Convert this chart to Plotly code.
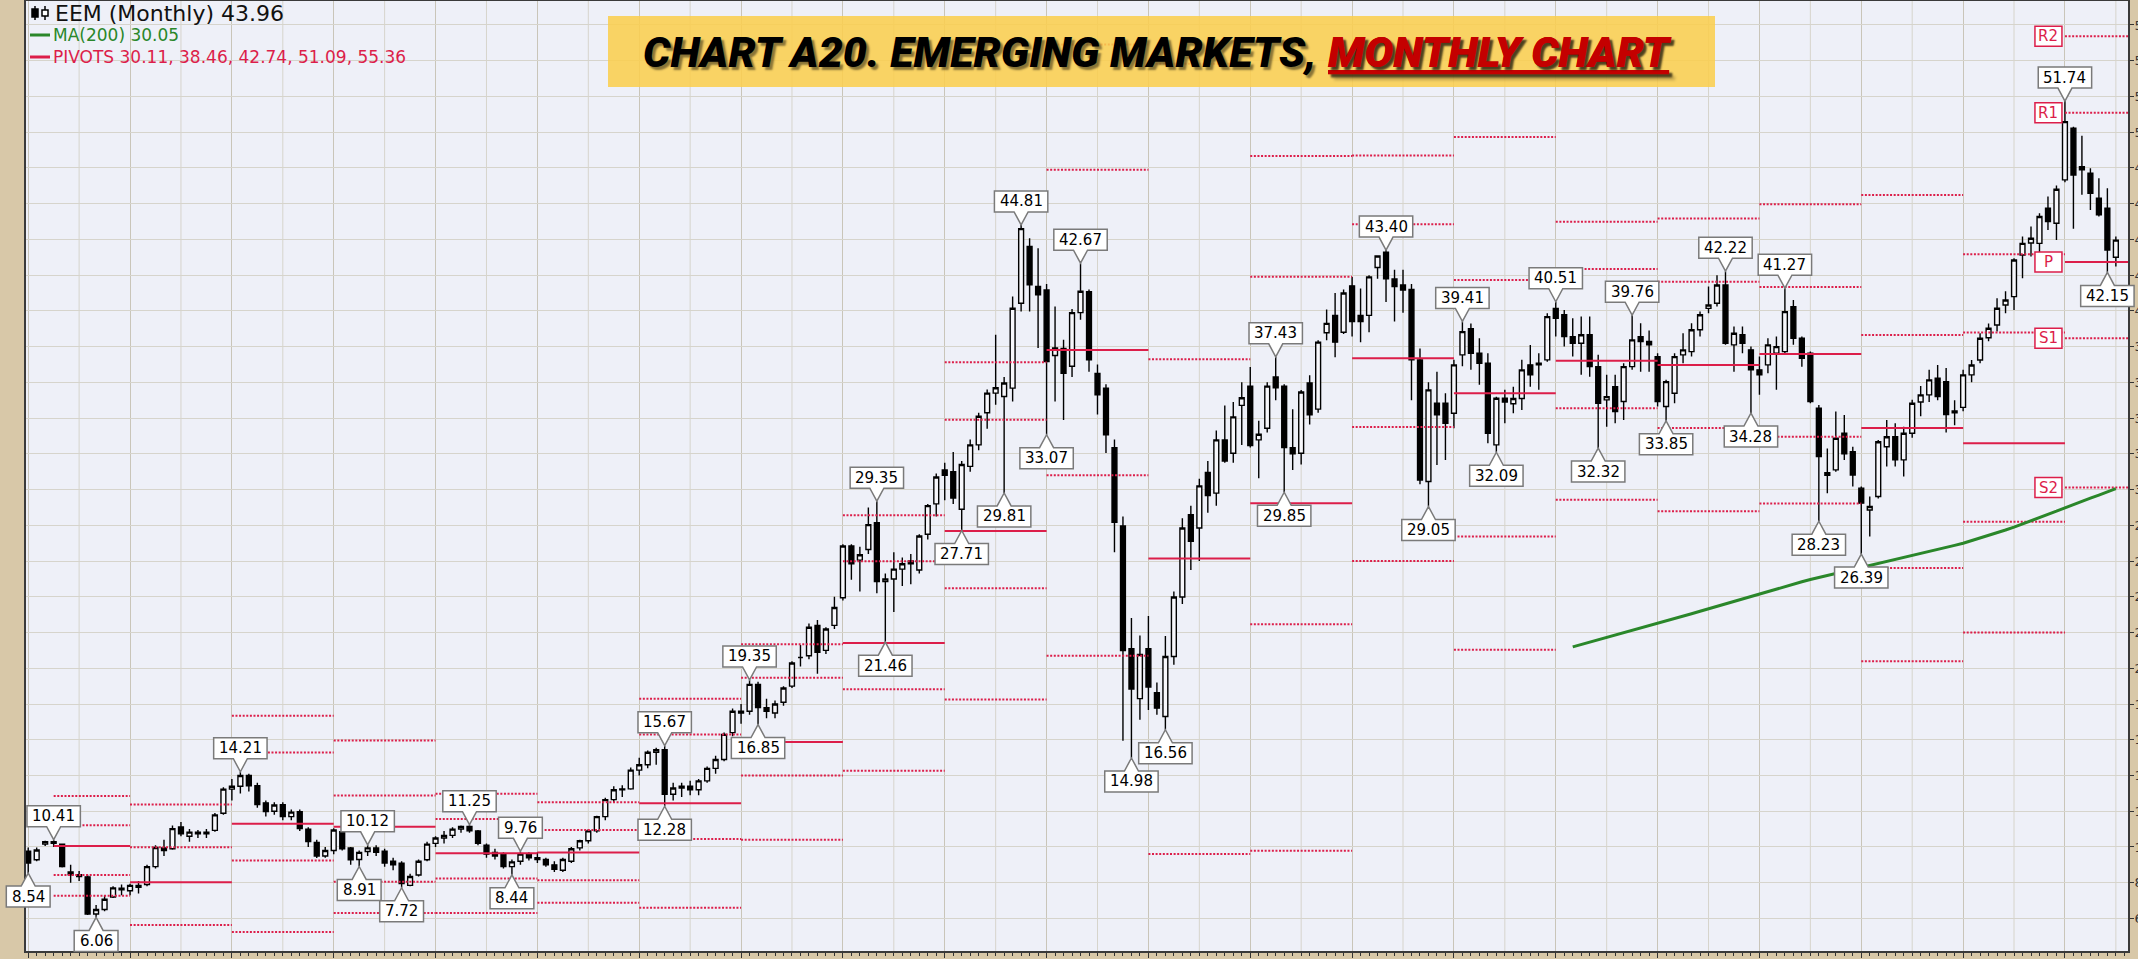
import plotly.graph_objects as go

# ---------------- data: EEM monthly candles, Jan 1998 .. Jul 2018 ----------------
FIRST_YEAR = 1998
OPEN = [
    9.77, 9.29, 10.16, 10.30, 10.15, 8.60, 8.45, 8.33, 6.25, 6.50, 7.20, 7.70,          # 1998
    7.55, 7.85, 7.90, 8.90, 9.95, 9.90, 11.12, 10.60, 10.83, 10.74, 10.93, 11.89,       # 1999
    13.24, 13.40, 14.01, 13.43, 12.47, 12.00, 12.37, 11.70, 11.97, 11.00, 10.26, 9.50,  # 2000
    9.80, 10.85, 9.95, 9.30, 9.75, 9.95, 9.77, 9.20, 9.10, 7.85, 8.43, 9.29,            # 2001
    10.20, 10.50, 10.65, 11.00, 11.15, 10.90, 10.10, 9.70, 9.60, 8.90, 9.20, 9.60,      # 2002
    9.40, 9.30, 9.00, 8.70, 9.20, 9.95, 10.35, 10.90, 11.70, 12.65, 13.20, 13.25,       # 2003
    14.30, 14.60, 15.30, 15.45, 12.95, 13.30, 13.40, 13.20, 13.70, 14.40, 14.90, 16.40, # 2004
    17.60, 17.60, 19.10, 17.80, 17.50, 18.10, 19.00, 20.60, 20.70, 22.40, 21.00, 22.40, # 2005
    23.95, 26.84, 26.05, 26.65, 28.14, 24.85, 25.00, 25.55, 26.00, 25.50, 27.50, 29.20, # 2006
    31.10, 31.00, 28.90, 31.30, 32.50, 34.30, 35.40, 35.21, 35.68, 40.43, 43.60, 41.36, # 2007
    41.17, 37.50, 37.90, 36.90, 39.90, 41.08, 36.50, 35.68, 32.35, 27.96, 21.09, 18.30, # 2008
    21.09, 18.63, 17.30, 20.66, 23.99, 28.60, 27.85, 30.96, 29.80, 32.78, 32.03, 34.71, # 2009
    35.79, 32.78, 33.43, 36.30, 35.79, 32.35, 32.03, 35.96, 34.50, 38.78, 39.75, 38.80, # 2010
    41.40, 39.75, 39.75, 42.43, 43.29, 41.79, 41.45, 41.20, 37.26, 30.45, 34.83, 34.83, # 2011
    34.27, 37.54, 39.00, 37.63, 37.07, 32.50, 35.11, 34.80, 35.10, 36.98, 36.98, 37.26, # 2012
    40.14, 39.78, 38.56, 38.19, 38.66, 36.88, 35.02, 35.76, 34.93, 36.88, 38.56, 38.29, # 2013
    37.44, 34.65, 35.39, 37.54, 37.72, 38.94, 40.14, 40.43, 41.45, 38.10, 38.66, 37.82, # 2014
    36.70, 36.98, 37.63, 37.72, 40.24, 38.47, 37.63, 34.55, 30.95, 31.10, 33.15, 32.12, # 2015
    30.08, 28.86, 29.61, 32.40, 32.96, 31.66, 33.15, 34.90, 35.30, 36.23, 36.04, 34.30, # 2016
    34.60, 36.42, 37.25, 38.50, 39.21, 40.33, 40.80, 43.13, 43.80, 43.78, 45.74, 44.90, # 2017
    47.33, 50.22, 48.07, 47.70, 46.30, 45.74, 43.00,                                     # 2018
]
HIGH = [
    9.97, 9.97, 10.35, 10.41, 10.20, 9.00, 8.65, 8.45, 6.75, 7.30, 7.80, 7.90,
    7.95, 8.10, 9.00, 10.10, 10.40, 11.20, 11.40, 11.00, 10.95, 11.00, 11.90, 13.35,
    13.80, 14.21, 14.10, 13.60, 12.60, 12.50, 12.50, 12.10, 12.10, 11.10, 10.40, 10.00,
    11.05, 11.00, 10.00, 9.80, 10.12, 10.10, 9.90, 9.40, 9.20, 8.50, 9.30, 10.30,
    10.60, 10.90, 11.10, 11.20, 11.25, 10.95, 10.20, 9.90, 9.70, 9.30, 9.76, 9.70,
    9.70, 9.40, 9.20, 9.40, 10.00, 10.40, 11.00, 11.75, 12.75, 13.40, 13.45, 14.45,
    15.00, 15.40, 15.55, 15.67, 13.60, 13.60, 13.70, 13.80, 14.50, 15.10, 16.40, 17.75,
    18.00, 19.35, 19.25, 18.30, 18.20, 19.00, 20.40, 21.30, 22.50, 22.70, 22.30, 24.00,
    26.94, 26.94, 26.80, 29.00, 29.35, 25.30, 26.50, 26.20, 26.40, 27.50, 29.20, 30.90,
    31.50, 32.10, 31.60, 32.80, 34.30, 35.60, 38.66, 36.30, 40.80, 44.81, 44.06, 43.50,
    41.50, 40.24, 38.38, 40.10, 42.67, 41.20, 37.00, 35.90, 32.80, 28.49, 22.81, 21.84,
    22.92, 19.20, 21.80, 24.30, 28.40, 29.10, 30.60, 31.60, 33.30, 34.70, 34.90, 36.00,
    36.86, 33.85, 36.00, 37.43, 35.90, 34.50, 35.57, 36.40, 38.36, 40.08, 41.00, 41.20,
    41.90, 41.25, 42.00, 43.10, 43.40, 42.30, 42.30, 41.50, 37.90, 36.00, 36.60, 35.39,
    37.26, 39.41, 39.30, 38.47, 37.63, 35.20, 35.58, 35.76, 37.26, 38.09, 37.63, 39.87,
    40.51, 40.05, 39.59, 39.68, 39.68, 37.54, 36.42, 36.42, 37.07, 39.76, 39.31, 38.90,
    37.63, 36.14, 37.63, 38.75, 39.31, 39.96, 41.36, 42.00, 42.22, 39.12, 39.12, 38.00,
    37.44, 38.47, 38.56, 41.27, 40.61, 38.56, 37.72, 34.74, 32.30, 34.37, 34.18, 32.40,
    30.17, 29.61, 32.78, 33.90, 33.71, 33.52, 35.02, 35.80, 36.70, 36.97, 36.80, 35.00,
    36.70, 37.25, 38.75, 39.30, 40.70, 41.10, 42.94, 44.16, 44.72, 45.46, 46.40, 47.015,
    51.74, 50.30, 49.80, 47.98, 47.42, 46.86, 44.16,
]
LOW = [
    8.54, 9.20, 10.05, 10.00, 8.85, 8.00, 8.10, 6.20, 6.06, 6.40, 7.15, 7.30,
    7.30, 7.40, 7.80, 8.80, 9.50, 9.85, 10.60, 10.30, 10.50, 10.50, 10.85, 11.80,
    12.60, 13.00, 13.10, 12.20, 11.70, 11.80, 11.50, 11.50, 10.90, 10.00, 9.39, 9.40,
    9.60, 9.80, 9.00, 8.91, 9.50, 9.50, 8.90, 8.70, 7.72, 7.80, 8.35, 9.20,
    10.00, 10.20, 10.50, 10.80, 10.80, 10.10, 9.40, 9.30, 8.80, 8.44, 9.00, 9.25,
    9.10, 8.90, 8.60, 8.60, 9.10, 9.80, 10.20, 10.80, 11.50, 12.50, 12.80, 13.20,
    14.00, 14.40, 14.60, 12.28, 12.60, 12.80, 12.90, 12.90, 13.60, 14.10, 14.80, 16.20,
    16.90, 17.40, 16.85, 17.20, 17.20, 17.90, 18.90, 20.10, 20.50, 19.70, 20.80, 22.20,
    23.80, 24.95, 24.30, 26.40, 24.20, 21.46, 23.15, 24.60, 24.70, 25.30, 27.20, 28.50,
    29.40, 29.20, 27.71, 31.00, 32.20, 33.40, 34.75, 29.81, 34.93, 39.97, 39.97, 37.92,
    33.07, 34.93, 33.90, 36.30, 39.50, 36.60, 34.20, 32.05, 26.50, 15.94, 14.98, 17.12,
    17.66, 17.40, 16.56, 20.20, 23.60, 25.50, 26.00, 28.70, 29.10, 31.50, 31.50, 32.50,
    32.35, 30.64, 33.20, 35.00, 29.85, 31.10, 31.40, 33.64, 34.30, 38.36, 37.40, 38.70,
    38.57, 38.25, 38.80, 41.80, 40.50, 39.40, 39.90, 35.00, 30.30, 29.05, 31.38, 31.66,
    33.43, 36.90, 36.70, 35.86, 32.59, 32.09, 33.71, 34.27, 34.46, 35.76, 35.58, 37.16,
    38.56, 38.00, 37.44, 36.42, 36.32, 32.32, 33.52, 33.71, 33.90, 36.70, 36.60, 36.60,
    34.65, 33.85, 34.83, 37.07, 37.44, 38.56, 39.87, 40.24, 38.10, 36.60, 37.63, 34.28,
    35.30, 36.51, 35.58, 37.60, 38.10, 36.88, 34.83, 28.23, 29.80, 31.00, 31.66, 30.17,
    26.39, 27.37, 29.50, 31.29, 31.29, 30.73, 32.90, 34.10, 34.90, 35.00, 33.20, 33.60,
    34.39, 36.00, 37.07, 38.30, 38.84, 39.87, 40.05, 41.82, 43.04, 43.22, 44.53, 43.97,
    47.20, 44.60, 46.50, 45.65, 45.28, 42.15, 42.48,
]
CLOSE = [
    9.10, 9.83, 10.30, 10.20, 8.91, 8.45, 8.35, 6.25, 6.50, 7.08, 7.71, 7.60,
    7.85, 7.75, 8.90, 9.97, 9.80, 11.03, 10.74, 10.83, 10.74, 10.83, 11.80, 13.24,
    13.40, 14.00, 13.43, 12.37, 11.99, 12.35, 11.70, 11.95, 11.03, 10.30, 9.49, 9.80,
    10.95, 9.90, 9.29, 9.70, 9.95, 9.70, 9.10, 9.00, 7.95, 8.35, 9.20, 10.16,
    10.50, 10.65, 11.00, 11.15, 10.91, 10.20, 9.60, 9.50, 8.90, 9.17, 9.60, 9.40,
    9.30, 9.00, 8.75, 9.30, 9.90, 10.35, 10.90, 11.70, 12.65, 13.20, 13.25, 14.30,
    14.60, 15.30, 15.45, 12.95, 13.30, 13.40, 13.20, 13.70, 14.40, 14.90, 16.30, 17.60,
    17.50, 19.10, 17.80, 17.60, 18.00, 18.90, 20.30, 20.60, 22.30, 20.90, 22.20, 23.40,
    26.84, 25.85, 26.35, 28.04, 24.85, 25.00, 25.55, 25.85, 25.85, 27.40, 29.10, 30.70,
    30.80, 29.53, 31.40, 32.50, 34.10, 35.40, 35.70, 35.96, 40.15, 44.60, 41.46, 40.90,
    37.17, 37.92, 36.50, 39.90, 41.10, 37.26, 35.30, 33.07, 28.17, 20.99, 18.84, 20.77,
    18.95, 17.77, 20.66, 23.99, 27.85, 27.10, 30.21, 29.67, 32.78, 31.60, 34.07, 35.14,
    32.46, 33.10, 35.79, 35.70, 32.35, 32.00, 35.46, 34.18, 38.25, 39.30, 38.25, 41.00,
    39.40, 39.40, 41.90, 43.07, 41.79, 41.36, 41.17, 37.26, 30.54, 35.58, 34.18, 33.71,
    36.98, 38.84, 37.63, 37.07, 33.15, 35.11, 34.90, 35.10, 36.70, 36.42, 37.07, 39.68,
    39.59, 38.56, 38.19, 38.66, 36.88, 34.83, 35.20, 34.37, 36.88, 38.38, 38.29, 38.10,
    34.93, 36.04, 37.44, 37.82, 38.94, 39.78, 40.33, 41.45, 38.19, 38.75, 38.19, 36.70,
    36.42, 38.10, 38.00, 39.96, 38.47, 37.35, 34.93, 31.85, 30.80, 32.87, 32.00, 30.82,
    29.24, 29.05, 32.68, 32.96, 31.66, 33.15, 34.83, 35.30, 36.14, 35.20, 34.20, 34.40,
    36.42, 36.97, 38.47, 39.03, 40.15, 40.61, 42.85, 43.78, 44.06, 45.28, 45.00, 46.81,
    50.59, 47.60, 47.89, 46.58, 45.37, 43.41, 43.96,
]

# 1997 high / low / close, feeding the 1998 yearly pivots
PRIOR_YEAR_HLC = (11.69, 8.90, 9.59)
PIVOT_FIRST_MONTH = 3          # the 1998 pivot segment begins in April

# 200-month moving average, from Mar 2013 (month index 182) onwards
MA200_START = 182
MA200 = [
    21.20, 21.33, 21.45, 21.58, 21.72, 21.85, 21.98, 22.12, 22.25, 22.39,
    22.52, 22.66, 22.78, 22.92, 23.05, 23.19, 23.33, 23.47, 23.62, 23.76,
    23.90, 24.03, 24.17, 24.31, 24.45, 24.58, 24.71, 24.84, 24.97, 25.08,
    25.19, 25.31, 25.43, 25.55, 25.66, 25.77, 25.88, 26.00, 26.11, 26.22,
    26.33, 26.44, 26.55, 26.66, 26.77, 26.88, 27.00, 27.14, 27.29, 27.44,
    27.59, 27.74, 27.90, 28.07, 28.24, 28.42, 28.60, 28.79, 28.98, 29.17,
    29.35, 29.52, 29.69, 29.87, 30.05,
]

# months whose high / low carry a value callout
SWING_HIGHS = [3, 25, 40, 52, 58, 75, 85, 100, 117, 124, 147, 160, 169, 180, 189, 200, 207, 240]
SWING_LOWS = [0, 8, 39, 44, 57, 75, 86, 101, 110, 115, 120, 130, 134, 148, 165, 173, 185,
              193, 203, 211, 216, 245]

# ---------------- geometry / styling ----------------
W, H = 2138, 959
ML, MR, MT, MB = 26, 10, 1, 8
PW, PH = W - ML - MR, H - MT - MB
X0, X1 = -0.26, 247.43
Y0, Y1 = 4.18, 57.34

PAPER_BG = "#D8C8A8"
PLOT_BG = "#EEF0F8"
GRID = "#D6D4CC"
GRID_YEAR = "#C9C5B9"
PIVOT_RED = "#DC1E4A"
MA_GREEN = "#2A872A"
FONT = "DejaVu Sans"


def xp(m):
    return (m - X0) / (X1 - X0)


def yp(v):
    return (v - Y0) / (Y1 - Y0)


def px2x(px):
    return (px - ML) / PW


def py2y(py):
    return 1 - (py - MT) / PH


n = len(CLOSE)
months = list(range(n))
n_years = (n + 11) // 12

# ---------------- yearly floor-trader pivots ----------------
def pivot_levels(h, l, c):
    p = (h + l + c) / 3.0
    rng = h - l
    return {"S2": p - rng, "S1": 2 * p - h, "P": p, "R1": 2 * p - l, "R2": p + rng}


pivots = []
for i in range(n_years):
    if i == 0:
        h, l, c = PRIOR_YEAR_HLC
    else:
        a, b = 12 * (i - 1), 12 * i
        h, l, c = max(HIGH[a:b]), min(LOW[a:b]), CLOSE[b - 1]
    start = PIVOT_FIRST_MONTH if i == 0 else 12 * i
    end = 12 * (i + 1) if i < n_years - 1 else X1 + 1
    pivots.append((start, end, pivot_levels(h, l, c)))

px_solid, py_solid, px_dot, py_dot = [], [], [], []
for start, end, lv in pivots:
    px_solid += [start, end, None]
    py_solid += [lv["P"], lv["P"], None]
    for k in ("R2", "R1", "S1", "S2"):
        px_dot += [start, end, None]
        py_dot += [lv[k], lv[k], None]

fig = go.Figure()

fig.add_trace(go.Candlestick(
    x=months, open=OPEN, high=HIGH, low=LOW, close=CLOSE,
    increasing=dict(line=dict(color="black", width=1.4), fillcolor="#F7F7FB"),
    decreasing=dict(line=dict(color="black", width=1.4), fillcolor="black"),
    whiskerwidth=0, showlegend=False, hoverinfo="skip",
))
fig.add_trace(go.Scatter(x=px_dot, y=py_dot, mode="lines",
                         line=dict(color=PIVOT_RED, width=2, dash="2px,1.6px"),
                         showlegend=False, hoverinfo="skip"))
fig.add_trace(go.Scatter(x=px_solid, y=py_solid, mode="lines",
                         line=dict(color=PIVOT_RED, width=2),
                         showlegend=False, hoverinfo="skip"))
fig.add_trace(go.Scatter(x=list(range(MA200_START, MA200_START + len(MA200))), y=MA200,
                         mode="lines", line=dict(color=MA_GREEN, width=3),
                         showlegend=False, hoverinfo="skip"))

shapes, annotations = [], []

# half-year vertical grid lines
for i in range(n_years):
    shapes.append(dict(type="line", xref="x", yref="paper", x0=12 * i + 6, x1=12 * i + 6,
                       y0=0, y1=1, line=dict(color=GRID, width=1), layer="below"))

# swing high / low callouts
BOX_H, TAIL, HALF_BASE = 21, 13, 7


def callout(m, v, up):
    txt = f"{v:.2f}"
    w = 9.6 * len(txt.replace(".", "")) + 15
    s = 1 if up else -1
    pts = [(-w / 2, s * TAIL), (-HALF_BASE, s * TAIL), (0, 0), (HALF_BASE, s * TAIL),
           (w / 2, s * TAIL), (w / 2, s * (TAIL + BOX_H)), (-w / 2, s * (TAIL + BOX_H))]
    path = "M " + " L ".join(f"{x:.1f},{y:.1f}" for x, y in pts) + " Z"
    shapes.append(dict(type="path", xref="paper", yref="paper", xsizemode="pixel",
                       ysizemode="pixel", xanchor=xp(m), yanchor=yp(v), path=path,
                       fillcolor="white", line=dict(color="#7A7A7A", width=1.5), layer="above"))
    annotations.append(dict(x=xp(m), y=yp(v), xref="paper", yref="paper", text=txt,
                            showarrow=False, xanchor="center", yanchor="middle",
                            yshift=s * (TAIL + BOX_H / 2),
                            font=dict(family=FONT, size=15, color="black")))


for m in SWING_HIGHS:
    callout(m, HIGH[m], True)
for m in SWING_LOWS:
    callout(m, LOW[m], False)

# labels for the current year's pivot levels
cur_start, _, cur_lv = pivots[-1]
for k in ("R2", "R1", "P", "S1", "S2"):
    v = cur_lv[k]
    shapes.append(dict(type="rect", xref="paper", yref="paper", xsizemode="pixel",
                       ysizemode="pixel", xanchor=xp(cur_start), yanchor=yp(v),
                       x0=-30, x1=-3, y0=-10, y1=10, fillcolor="white",
                       line=dict(color=PIVOT_RED, width=1.5), layer="above"))
    annotations.append(dict(x=xp(cur_start), y=yp(v), xref="paper", yref="paper", text=k,
                            showarrow=False, xanchor="center", yanchor="middle", xshift=-16.5,
                            font=dict(family=FONT, size=15, color=PIVOT_RED)))

# title banner
shapes.append(dict(type="rect", xref="paper", yref="paper", x0=px2x(608), x1=px2x(1715),
                   y0=py2y(87), y1=py2y(16), fillcolor="rgba(250,206,78,0.88)",
                   line=dict(width=0), layer="above"))
TITLE_FONT = "Roboto, DejaVu Sans, sans-serif"
TITLE_SHADOW = "3px 3px 2px rgba(0,0,0,0.45)"
annotations.append(dict(x=px2x(1318), y=py2y(52), xref="paper", yref="paper",
                        text="CHART A20. EMERGING MARKETS,", showarrow=False,
                        xanchor="right", yanchor="middle",
                        font=dict(family=TITLE_FONT, size=43, color="black", weight=900,
                                  style="italic", shadow=TITLE_SHADOW)))
annotations.append(dict(x=px2x(1326), y=py2y(52), xref="paper", yref="paper",
                        text="MONTHLY CHART", showarrow=False,
                        xanchor="left", yanchor="middle",
                        font=dict(family=TITLE_FONT, size=43, color="#C40000", weight=900,
                                  style="italic", lineposition="under", shadow=TITLE_SHADOW)))

# legend block, top left
cur_text = "PIVOTS " + ", ".join(f"{cur_lv[k]:.2f}" for k in ("S2", "S1", "P", "R1", "R2"))
legend_rows = [
    (13, f"EEM (Monthly) {CLOSE[-1]:.2f}", "#111111", 22),
    (35, f"MA(200) {MA200[-1]:.2f}", MA_GREEN, 17),
    (57, cur_text, PIVOT_RED, 17),
]
for i, (py, txt, col, size) in enumerate(legend_rows):
    annotations.append(dict(x=px2x(53 if i == 0 else 51), y=py2y(py), xref="paper", yref="paper",
                            text=txt, showarrow=False, xanchor="left", yanchor="middle",
                            font=dict(family=FONT, size=size, color=col)))
for py, col in ((35, MA_GREEN), (57, PIVOT_RED)):
    shapes.append(dict(type="line", xref="paper", yref="paper", x0=px2x(30), x1=px2x(50),
                       y0=py2y(py), y1=py2y(py), line=dict(color=col, width=3), layer="above"))
# small candle glyph
for cx, filled in ((35, True), (45, False)):
    shapes.append(dict(type="line", xref="paper", yref="paper", x0=px2x(cx), x1=px2x(cx),
                       y0=py2y(6), y1=py2y(20), line=dict(color="black", width=1.5), layer="above"))
    shapes.append(dict(type="rect", xref="paper", yref="paper", x0=px2x(cx - 3), x1=px2x(cx + 3),
                       y0=py2y(17 if filled else 16), y1=py2y(9 if filled else 10),
                       fillcolor="black" if filled else "white",
                       line=dict(color="black", width=1.5), layer="above"))

fig.update_layout(
    width=W, height=H,
    margin=dict(l=ML, r=MR, t=MT, b=MB, pad=0, autoexpand=False),
    paper_bgcolor=PAPER_BG, plot_bgcolor=PLOT_BG,
    boxgap=0.18,
    showlegend=False,
    shapes=shapes, annotations=annotations,
    xaxis=dict(
        range=[X0, X1], rangeslider=dict(visible=False), automargin=False,
        tickmode="array", tickvals=[12 * i for i in range(n_years)],
        ticktext=[str(FIRST_YEAR + i) for i in range(n_years)],
        ticks="outside", ticklen=5, tickcolor="#333333", tickwidth=1,
        tickfont=dict(family=FONT, size=13, color="#333333"),
        ticklabelstandoff=-4,
        minor=dict(tickmode="linear", tick0=0, dtick=1, ticks="outside", ticklen=3,
                   tickcolor="#333333", showgrid=False),
        showgrid=True, gridcolor=GRID_YEAR, gridwidth=1, zeroline=False,
        showline=True, linecolor="#3A3A3A", linewidth=2, mirror=True,
    ),
    yaxis=dict(
        range=[Y0, Y1], side="right", tickmode="linear", tick0=0, dtick=2, automargin=False,
        ticks="outside", ticklen=4, tickcolor="#333333",
        tickfont=dict(family=FONT, size=13, color="#333333"),
        ticklabelstandoff=-2,
        showgrid=True, gridcolor=GRID, gridwidth=1, zeroline=False,
        showline=True, linecolor="#3A3A3A", linewidth=2, mirror=True,
    ),
)

fig.write_html("out.html")
